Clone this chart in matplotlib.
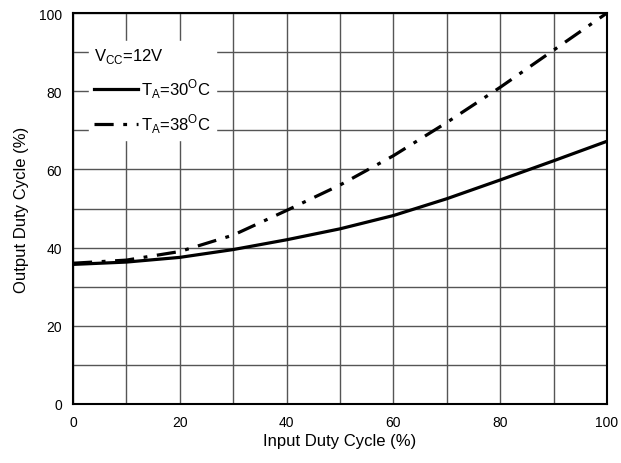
import matplotlib.pyplot as plt
import numpy as np

plt.rcParams['font.family'] = ['Liberation Sans', 'DejaVu Sans']
plt.rcParams['mathtext.fontset'] = 'custom'
plt.rcParams['mathtext.rm'] = 'Liberation Sans'

input_duty = [0, 10, 20, 30, 40, 50, 60, 70, 80, 90, 100]
out_30c = [35.7, 36.3, 37.5, 39.5, 42.0, 44.8, 48.2, 52.5, 57.3, 62.2, 67.2]
out_38c = [36.0, 36.8, 39.0, 43.2, 49.5, 56.0, 63.5, 72.0, 81.0, 90.5, 100.0]

fig = plt.figure(figsize=(6.21, 4.64), dpi=100)
ax = fig.add_axes([73/621, 59/464, 534/621, 391/464])

ax.plot(input_duty, out_30c, color='black', lw=2.3, ls='-',
        label=r'T$_{\mathregular{A}}$=30$^{\mathregular{O}}$C')
ax.plot(input_duty, out_38c, color='black', lw=2.3, ls=(0, (6, 3, 1.2, 3)),
        label=r'T$_{\mathregular{A}}$=38$^{\mathregular{O}}$C')

ax.set_xlim(0, 100)
ax.set_ylim(0, 100)
ax.set_xticks(np.arange(0, 101, 20))
ax.set_yticks(np.arange(0, 101, 20))
ax.set_xticks(np.arange(0, 101, 10), minor=True)
ax.set_yticks(np.arange(0, 101, 10), minor=True)
ax.grid(which='both', color='#555555', lw=1.0)
ax.set_axisbelow(True)
ax.tick_params(which='both', length=0, labelsize=10, pad=8)
for s in ax.spines.values():
    s.set_linewidth(1.5)

ax.set_xlabel('Input Duty Cycle (%)', fontsize=12, labelpad=3)
ax.set_ylabel('Output Duty Cycle (%)', fontsize=12, labelpad=7)

leg = ax.legend(loc='upper left', bbox_to_anchor=(0.015, 0.95), frameon=True,
                fancybox=False, edgecolor='white', framealpha=1.0,
                fontsize=12, handlelength=2.6, handletextpad=0.2,
                borderpad=0.3, labelspacing=0.7,
                title=r'V$_{\mathregular{CC}}$=12V', title_fontsize=12)
leg._legend_box.align = 'left'

fig.savefig('out.png', dpi=100)
